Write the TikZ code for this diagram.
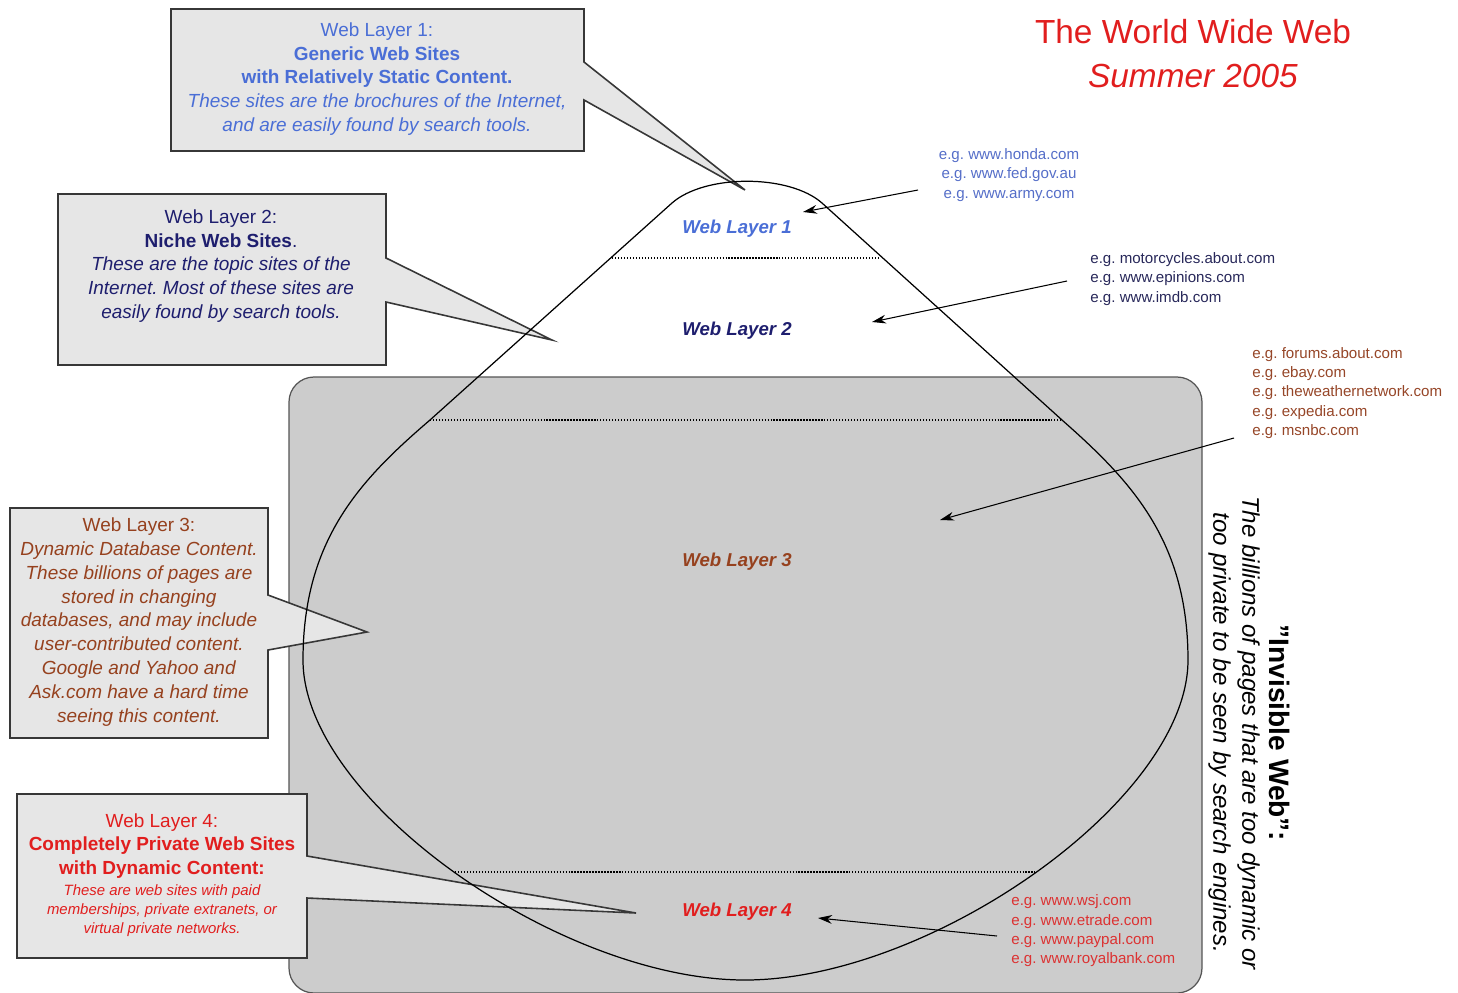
\documentclass[tikz,border=0pt]{standalone}
\usepackage{fontspec}
\setmainfont{Liberation Sans}
\usetikzlibrary{arrows.meta}
\frenchspacing
\definecolor{boxgray}{RGB}{230,230,230}
\definecolor{boxline}{RGB}{55,55,55}
\definecolor{rectgray}{RGB}{204,204,204}
\definecolor{rectline}{RGB}{85,85,85}
\definecolor{lonecol}{RGB}{74,110,214}
\definecolor{ltwocol}{RGB}{30,30,110}
\definecolor{lthreecol}{RGB}{150,65,30}
\definecolor{lfourcol}{RGB}{225,30,30}
\definecolor{egone}{RGB}{85,110,200}
\definecolor{egtwo}{RGB}{40,40,90}
\definecolor{egthree}{RGB}{150,70,40}
\definecolor{egfour}{RGB}{220,50,50}

\begin{document}
\begin{tikzpicture}[x=0.02cm, y=-0.02cm,
    callbox/.style={fill=boxgray, draw=boxline, line width=0.9pt},
    calltext/.style={align=center, inner sep=0pt, font=\fontsize{10.8}{13.6}\selectfont},
    layer/.style={font=\fontsize{10.6}{13}\selectfont\bfseries\itshape},
    eg/.style={inner sep=0pt, font=\fontsize{8.6}{11}\selectfont},
    sep/.style={densely dotted, line width=0.7pt},
    pointer/.style={-{Stealth[length=8pt,width=5pt]}, line width=0.6pt}]
    \useasboundingbox (0,0) rectangle (1458,992);
    % invisible web background
    \draw[fill=rectgray, draw=rectline, line width=0.7pt, rounded corners=0.5cm] (289,377) rectangle (1202,993);
    % callouts
    \coordinate (tip1) at (745,190);
    \coordinate (tip2) at (552,340);
    \coordinate (tip3) at (367,632);
    \coordinate (tip4) at (636,913);
    \draw[callbox] (171,9) -- (584,9) -- (584,62) -- (tip1) -- (584,100) -- (584,151) -- (171,151) -- cycle;
    \draw[callbox] (58,194) -- (386,194) -- (386,258) -- (tip2) -- (386,302) -- (386,365) -- (58,365) -- cycle;
    \draw[callbox] (10,508) -- (268,508) -- (268,595) -- (tip3) -- (268,650) -- (268,738) -- (10,738) -- cycle;
    \draw[callbox] (17,794) -- (307,794) -- (307,856) -- (tip4) -- (307,898) -- (307,958) -- (17,958) -- cycle;
    % the web
    \draw[line width=0.7pt] (672,203) .. controls (705,174) and (789,174) .. (822,203) -- (1062,420)
        .. controls (1130,480) and (1188,540) .. (1188,660)
        .. controls (1188,800) and (930,980) .. (745,980)
        .. controls (560,980) and (303,800) .. (303,660)
        .. controls (303,540) and (360,480) .. (430,420) -- cycle;
    \draw[sep] (612,258) -- (880,258);
    \draw[sep] (430,420) -- (1062,420);
    \draw[sep] (455,872) -- (1035,872);
    \node[layer, text=lonecol] (lay1) at (737,229) {Web Layer 1};
    \node[layer, text=ltwocol] (lay2) at (737,331) {Web Layer 2};
    \node[layer, text=lthreecol] (lay3) at (737,562) {Web Layer 3};
    \node[layer, text=lfourcol] (lay4) at (737,912) {Web Layer 4};
    % callout texts
    \node[calltext, text=lonecol] (txt1) at (377,79) {Web Layer 1:\\\textbf{Generic Web Sites}\\\textbf{with Relatively Static Content.}\\\textit{These sites are the brochures of the Internet,}\\\textit{and are easily found by search tools.}};
    \node[calltext, text=ltwocol] (txt2) at (221,266) {Web Layer 2:\\\textbf{Niche Web Sites}.\\\textit{These are the topic sites of the}\\\textit{Internet. Most of these sites are}\\\textit{easily found by search tools.}};
    \node[calltext, text=lthreecol] (txt3) at (139,622) {Web Layer 3:\\\textit{Dynamic Database Content.}\\\textit{These billions of pages are}\\\textit{stored in changing}\\\textit{databases, and may include}\\\textit{user-contributed content.}\\\textit{Google and Yahoo and}\\\textit{Ask.com have a hard time}\\\textit{seeing this content.}};
    \node[calltext, text=lfourcol] (txt4) at (162,846) {Web Layer 4:\\\textbf{Completely Private Web Sites}\\\textbf{with Dynamic Content:}};
    \node[calltext, text=lfourcol, font=\fontsize{8.5}{10.8}\selectfont\itshape] (txt4b) at (162,911) {These are web sites with paid\\memberships, private extranets, or\\virtual private networks.};
    % examples
    \node[eg, align=center, text=egone] (eg1) at (1009,175) {e.g. www.honda.com\\e.g. www.fed.gov.au\\e.g. www.army.com};
    \node[eg, align=left, anchor=west, text=egtwo] (eg2) at (1090,279) {e.g. motorcycles.about.com\\e.g. www.epinions.com\\e.g. www.imdb.com};
    \node[eg, align=left, anchor=west, text=egthree] (eg3) at (1252,393) {e.g. forums.about.com\\e.g. ebay.com\\e.g. theweathernetwork.com\\e.g. expedia.com\\e.g. msnbc.com};
    \node[eg, align=left, anchor=west, text=egfour] (eg4) at (1011,931) {e.g. www.wsj.com\\e.g. www.etrade.com\\e.g. www.paypal.com\\e.g. www.royalbank.com};
    \coordinate (from1) at (918,190);
    \coordinate (to1) at (803,212);
    \coordinate (from2) at (1067,281);
    \coordinate (to2) at (872,322);
    \coordinate (from3) at (1234,438);
    \coordinate (to3) at (940,520);
    \coordinate (from4) at (997,936);
    \coordinate (to4) at (818,918);
    \draw[pointer] (from1) -- (to1);
    \draw[pointer] (from2) -- (to2);
    \draw[pointer] (from3) -- (to3);
    \draw[pointer] (from4) -- (to4);
    % title and side note
    \node[align=center, text=lfourcol, font=\fontsize{19}{25}\selectfont] (title) at (1193,54) {The World Wide Web\\\textit{Summer 2005}};
    \node[rotate=-90, font=\fontsize{16}{19}\selectfont\bfseries] (inv) at (1280,733) {"Invisible Web":};
    \node[rotate=-90, align=center, font=\fontsize{13.7}{16.5}\selectfont\itshape] (invtxt) at (1234,733) {The billions of pages that are too dynamic or\\too private to be seen by search engines.};
\end{tikzpicture}
\end{document}
